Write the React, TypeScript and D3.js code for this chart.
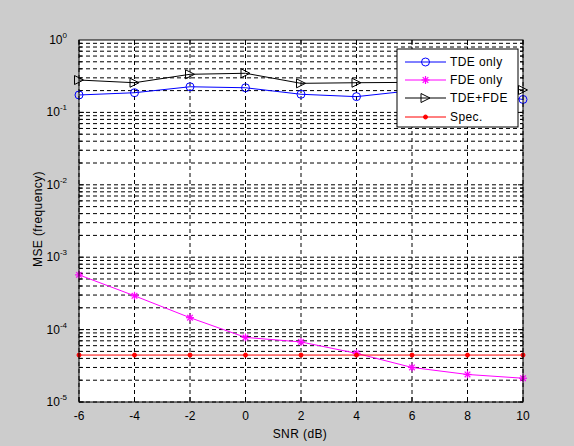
import React from "react";
import * as d3 from "d3";

const snr = [-6, -4, -2, 0, 2, 4, 6, 8, 10];
const tdeOnly = [0.174, 0.187, 0.226, 0.219, 0.178, 0.165, 0.2, 0.19, 0.151];
const fdeOnly = [5.7e-4, 2.93e-4, 1.46e-4, 7.8e-5, 6.75e-5, 4.7e-5, 3.0e-5, 2.4e-5, 2.13e-5];
const tdeFde = [0.28, 0.257, 0.336, 0.347, 0.252, 0.257, 0.26, 0.24, 0.204];
const spec = [4.45e-5, 4.45e-5, 4.45e-5, 4.45e-5, 4.45e-5, 4.45e-5, 4.45e-5, 4.45e-5, 4.45e-5];
const xTicks = [-6, -4, -2, 0, 2, 4, 6, 8, 10];
const yExps = [0, -1, -2, -3, -4, -5];
const legendLabels = ["TDE only", "FDE only", "TDE+FDE", "Spec."];

const W = 574, H = 446;
const L = 79, R = 523, T = 40, B = 402;
const FONT = "'Liberation Sans', Arial, sans-serif";

function Marker({ kind, x, y, color }: { kind: string; x: number; y: number; color: string }) {
  if (kind === "o") return <circle cx={x} cy={y} r={4} fill="none" stroke={color} strokeWidth={1} />;
  if (kind === "*") {
    const s = 4;
    return (
      <g stroke={color} strokeWidth={1.2}>
        <line x1={x - s} y1={y} x2={x + s} y2={y} />
        <line x1={x} y1={y - s} x2={x} y2={y + s} />
        <line x1={x - s * 0.7} y1={y - s * 0.7} x2={x + s * 0.7} y2={y + s * 0.7} />
        <line x1={x - s * 0.7} y1={y + s * 0.7} x2={x + s * 0.7} y2={y - s * 0.7} />
      </g>
    );
  }
  if (kind === ">") {
    const s = 4.5;
    return <path d={`M${x - s},${y - s}L${x + s},${y}L${x - s},${y + s}Z`} fill="none" stroke={color} strokeWidth={1} />;
  }
  return <circle cx={x} cy={y} r={2} fill={color} stroke={color} />;
}

export default function App() {
  const x = d3.scaleLinear().domain([-6, 10]).range([L, R]);
  const y = d3.scaleLog().domain([1e-5, 1]).range([B, T]);

  const series = [
    { data: tdeOnly, color: "#0000ff", kind: "o" },
    { data: fdeOnly, color: "#ff00ff", kind: "*" },
    { data: tdeFde, color: "#000000", kind: ">" },
    { data: spec, color: "#ff0000", kind: "." },
  ];
  const line = d3.line<[number, number]>().x((d) => x(d[0])).y((d) => y(d[1]));

  const gridVals: number[] = [];
  for (let e = -5; e < 0; e++) for (let m = 1; m <= 9; m++) gridVals.push(m * Math.pow(10, e));

  const lgX = 397, lgY = 49, lgW = 121, lgH = 78;
  const rowY = [62, 80, 98, 117];

  return (
    <svg width={W} height={H} style={{ position: "absolute", left: 0, top: 0 }} fontFamily={FONT}>
      <rect x={0} y={0} width={W} height={H} fill="#cccccc" />
      <rect x={L} y={T} width={R - L} height={B - T} fill="#ffffff" />
      {gridVals.map((v, i) => (
        <line key={"h" + i} x1={L} x2={R} y1={y(v)} y2={y(v)} stroke="#000" strokeWidth={1} strokeDasharray="4,3" />
      ))}
      {xTicks.map((t, i) => (
        <line key={"v" + i} x1={x(t)} x2={x(t)} y1={T} y2={B} stroke="#000" strokeWidth={1} strokeDasharray="4,3" />
      ))}
      {xTicks.map((t, i) => (
        <g key={"xt" + i}>
          <line x1={x(t)} x2={x(t)} y1={B} y2={B - 5} stroke="#000" />
          <line x1={x(t)} x2={x(t)} y1={T} y2={T + 5} stroke="#000" />
          <text x={x(t)} y={420} fontSize={12} textAnchor="middle" fill="#000">{t}</text>
        </g>
      ))}
      {gridVals.map((v, i) => {
        const major = Math.abs(Math.log10(v) - Math.round(Math.log10(v))) < 1e-9;
        const len = major ? 5 : 3;
        return (
          <g key={"yt" + i}>
            <line x1={L} x2={L + len} y1={y(v)} y2={y(v)} stroke="#000" />
            <line x1={R} x2={R - len} y1={y(v)} y2={y(v)} stroke="#000" />
          </g>
        );
      })}
      {yExps.map((e) => (
        <text key={"yl" + e} x={67} y={y(Math.pow(10, e)) + 4} fontSize={12} textAnchor="end" fill="#000">
          10
          <tspan dy={-6} fontSize={8}>{e}</tspan>
        </text>
      ))}
      {series.map((s, si) => (
        <g key={"s" + si}>
          <path d={line(snr.map((v, i) => [v, s.data[i]]) as [number, number][]) || ""} fill="none" stroke={s.color} strokeWidth={1} />
          {snr.map((v, i) => (
            <Marker key={i} kind={s.kind} x={x(v)} y={y(s.data[i])} color={s.color} />
          ))}
        </g>
      ))}
      <rect x={L} y={T} width={R - L} height={B - T} fill="none" stroke="#000" strokeWidth={1} />
      <rect x={lgX} y={lgY} width={lgW} height={lgH} fill="#fff" stroke="#000" strokeWidth={1} />
      {series.map((s, i) => (
        <g key={"lg" + i}>
          <line x1={405} x2={446} y1={rowY[i]} y2={rowY[i]} stroke={s.color} strokeWidth={1} />
          <Marker kind={s.kind} x={425.5} y={rowY[i]} color={s.color} />
          <text x={450} y={rowY[i] + 4} fontSize={12} letterSpacing={0.4} fill="#000">{legendLabels[i]}</text>
        </g>
      ))}
      <text x={300} y={438} fontSize={12} letterSpacing={0.4} textAnchor="middle" fill="#000">SNR (dB)</text>
      <text transform={`translate(42,${219}) rotate(-90)`} fontSize={12} letterSpacing={0.4} textAnchor="middle" fill="#000">MSE (frequency)</text>
    </svg>
  );
}
